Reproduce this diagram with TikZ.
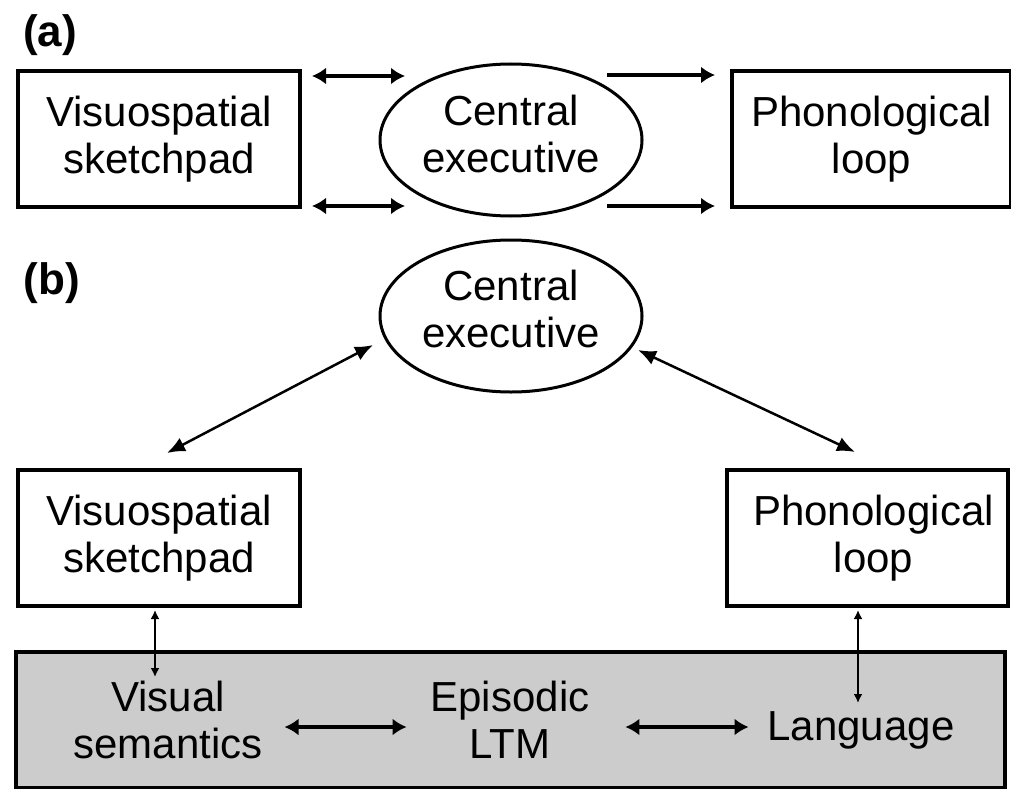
\documentclass[tikz,border=0pt]{standalone}
\usepackage{fontspec}
\setmainfont{Liberation Sans}
\usetikzlibrary{shapes.geometric,arrows.meta,calc}

\tikzset{
  every node/.style={outer sep=0pt},
  box/.style={draw=black, line width=4pt, minimum width=282pt, minimum height=136pt,
              align=center, inner sep=0pt},
  oval/.style={draw=black, ellipse, line width=3pt, minimum width=262pt, minimum height=152pt,
               inner sep=0pt},
  txt/.style={align=center, inner sep=0pt},
  panel/.style={font=\fontsize{44}{50}\selectfont\bfseries, inner sep=0pt},
  biarrow/.style={line width=3.5pt, arrows={Latex[length=14pt,width=17pt]-Latex[length=14pt,width=17pt]}},
  onearrow/.style={line width=3.5pt, arrows={-Latex[length=14pt,width=17pt]}},
  diagarrow/.style={line width=2.5pt, arrows={Latex[length=18pt,width=15pt]-Latex[length=18pt,width=15pt]}},
  thinarrow/.style={line width=2pt, arrows={Latex[length=9pt,width=9pt]-Latex[length=9pt,width=9pt]}},
}

\begin{document}
\begin{tikzpicture}[x=1pt, y=-1pt, font=\fontsize{42}{47}\selectfont]
  \useasboundingbox (0,0) rectangle (1011,789);

  % ---- panel (a): central executive with two slave systems
  \node[panel] (la) at (50,35) {(a)};
  \node[box] (vsa) at (159,139) {Visuospatial\\sketchpad};
  \node[oval] (cea) at (511,140) {};
  \node[txt] (ceat) at ($(cea.center)+(0,-6)$) {Central\\executive};
  \node[box, minimum width=279pt] (pla) at (871.5,139) {Phonological\\loop};

  \draw[biarrow] ($(vsa.north east)+(12,5)$) -- ($(cea.center)+(-106,-64)$);
  \draw[biarrow] ($(vsa.south east)+(12,-1)$) -- ($(cea.center)+(-106,66)$);
  \draw[onearrow] ($(cea.center)+(96,-65)$) -- ($(pla.north west)+(-17,4)$);
  \draw[onearrow] ($(cea.center)+(96,66)$) -- ($(pla.south west)+(-17,-1)$);

  % ---- panel (b): slave systems linked to long-term memory
  \node[panel] (lb) at (52,283) {(b)};
  \node[oval] (ceb) at (511,316) {};
  \node[txt] (cebt) at ($(ceb.center)+(0,-7)$) {Central\\executive};
  \node[box] (vsb) at (159,538) {Visuospatial\\sketchpad};
  \node[box, minimum width=281pt] (plb) at (867.5,538) {\hspace*{12pt}Phonological\\\hspace*{12pt}loop};

  \node[draw=black, line width=4pt, fill=black!20, minimum width=989pt, minimum height=136pt,
        inner sep=0pt] (ltm) at (510.5,720) {};
  \node[txt] (vis) at (168,720) {Visual\\semantics};
  \node[txt] (epi) at (510,720) {Episodic\\LTM};
  \node[txt] (lang) at (861,730) {Language};

  \draw[diagarrow] ($(vsb.north)+(8,-17)$) -- ($(ceb.center)+(-138,29)$);
  \draw[diagarrow] ($(ceb.center)+(127,34)$) -- ($(plb.north)+(-12.5,-18)$);

  \draw[thinarrow] ($(vsb.south)+(-4,4)$) -- ($(vsb.south |- ltm.north)+(-4,25)$);
  \draw[thinarrow] ($(plb.south)+(-9.5,4)$) -- ($(plb.south |- ltm.north)+(-9.5,51)$);

  \draw[biarrow] ($(vis.east |- lang.center)+(22,-3)$) -- ($(epi.west |- lang.center)+(-24,-3)$);
  \draw[biarrow] ($(epi.east |- lang.center)+(36,-3)$) -- ($(lang.west)+(-19,-3)$);
\end{tikzpicture}
\end{document}
